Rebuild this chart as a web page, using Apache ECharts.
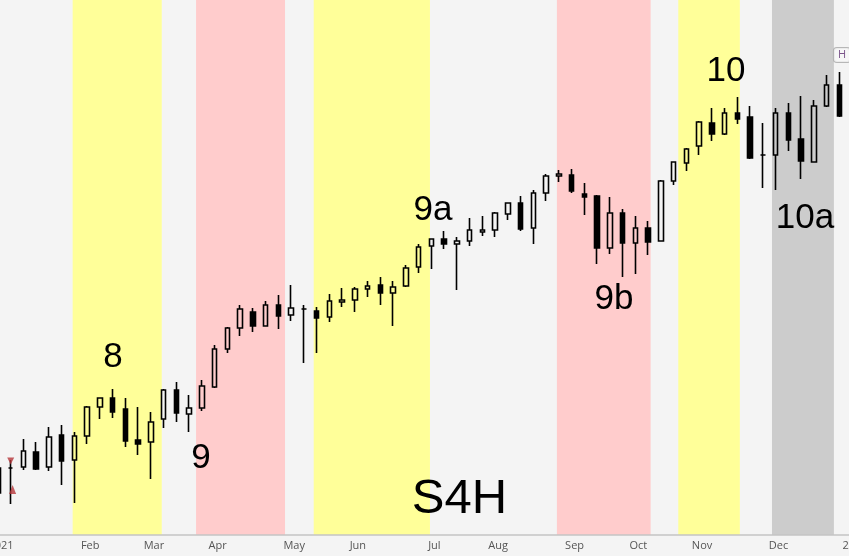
<!DOCTYPE html>
<html>
<head>
<meta charset="utf-8">
<script src="https://cdn.jsdelivr.net/npm/echarts@6/dist/echarts.min.js"></script>
<style>
html,body{margin:0;padding:0;background:#f4f4f4;}
#chart{width:849px;height:556px;}
</style>
</head>
<body>
<div id="chart"></div>
<script>
// ---- data (weekly candles, price units) ----
const opens = [24.2,26.7,26.8,28.3,26.8,30.0,27.5,29.9,32.8,33.7,
  32.6,29.5,29.3,31.6,34.5,32.1,32.7,34.8,38.6,40.7,
  42.3,40.9,43.0,42.0,42.6,42.4,41.8,43.3,43.5,44.6,
  45.0,44.2,44.9,46.8,48.9,49.6,49.1,49.4,50.3,50.5,
  52.1,53.2,50.7,54.2,55.9,56.0,54.1,53.9,48.7,52.2,
  49.2,50.7,49.4,55.4,57.2,58.9,61.2,60.1,62.2,61.8,
  58.0,58.0,62.2,59.6,57.3,62.9,65.0];
const closes = [26.7,26.7,28.4,26.6,29.8,27.4,29.9,32.8,33.7,32.3,
  29.4,29.1,31.3,34.5,32.2,32.7,34.9,38.6,40.7,42.6,
  40.9,43.0,41.9,42.7,42.6,41.7,43.4,43.5,44.6,44.9,
  44.2,44.8,46.7,48.8,49.6,49.1,49.4,50.5,50.5,52.2,
  53.2,50.6,54.2,55.9,56.1,54.4,53.8,48.7,52.2,49.2,
  50.7,49.3,55.4,57.3,58.6,61.3,60.1,62.2,61.6,57.7,
  58.0,62.2,59.5,57.4,62.9,65.0,61.9];
const lows = [24.2,23.1,26.5,26.5,26.4,25.0,23.2,29.1,31.6,31.7,
  28.8,28.0,25.6,30.7,31.3,30.3,32.4,34.7,38.2,39.9,
  40.3,40.9,40.6,41.4,37.2,38.2,41.3,42.8,42.3,43.8,
  43.0,40.9,44.8,46.2,46.6,48.6,44.5,48.9,49.9,49.8,
  51.5,50.4,49.1,53.4,55.3,54.2,52.0,47.1,48.1,45.8,
  46.1,48.0,49.4,55.0,56.4,58.0,59.4,60.0,61.1,57.6,
  54.7,54.5,58.4,55.6,57.3,62.8,61.8];
const highs = [26.7,27.5,29.6,29.3,30.8,31.0,30.3,32.9,33.7,34.6,
  33.7,32.8,32.3,34.6,35.3,34.0,35.5,39.0,40.8,43.0,
  42.7,43.4,44.0,45.0,43.0,42.8,44.1,44.7,44.8,45.4,
  45.8,45.4,47.0,49.1,49.6,50.4,49.8,51.7,51.9,52.3,
  53.2,53.9,54.5,56.1,56.5,56.6,55.2,54.0,53.8,52.6,
  51.9,51.4,55.5,57.3,58.7,61.4,62.7,62.7,63.8,62.9,
  61.2,62.7,63.2,63.9,63.5,66.0,66.3];

const weekCount = 68; // category slots (last one empty, holds the next-year label)
const weeks = Array.from({length: weekCount}, (_, i) => String(i));

// axis tick labels (week index -> text)
const tickIndex = [0,7,12,17,23,28,34,39,45,50,55,61,67];
const tickText  = ['2021','Feb','Mar','Apr','May','Jun','Jul','Aug','Sep','Oct','Nov','Dec','2022'];

// shaded periods, in (fractional) week index units
const bandStart = [5.86,15.54,24.77,43.85,53.37,60.72];
const bandEnd   = [12.85,22.52,33.89,51.2,58.2,65.58];
const bandKind  = ['yellow','pink','yellow','pink','yellow','gray'];

// wave annotations
const noteText = ['8','9','9a','9b','10','10a'];
const noteWeek = [9.03,15.93,34.13,48.33,57.11,63.31];
const notePrice = [37.8,27.7,52.5,43.6,66.4,51.7];

// signal markers at week 1
const sigWeek = [1.0,1.15];
const sigPrice = [27.4,24.55];

const priceMin = 20, priceMax = 73.5;

// ---- build ----
const candleData = opens.map((o, i) => [o, closes[i], lows[i], highs[i]]);
const bandColors = {yellow:'#ffff99', pink:'#ffcccc', gray:'#cccccc'};
const bandData = bandStart.map((s, i) => [s, bandEnd[i], bandKind[i]]);
const labelMap = {};
tickIndex.forEach((ix, k) => labelMap[ix] = tickText[k]);

const hidden = {color: 'rgba(0,0,0,0)'};
const bigText = {show: true, position: 'inside', formatter: '{b}', color: '#000', opacity: 1,
  textBorderWidth: 0, textShadowBlur: 0, fontFamily: 'Liberation Sans, Arial, sans-serif'};
const chart = echarts.init(document.getElementById('chart'), null, {renderer:'canvas'});
chart.setOption({
  backgroundColor: '#f4f4f4',
  animation: false,
  grid: {left: -8.42, right: -9.4, top: 0, bottom: 21, containLabel: false, outerBoundsMode: 'none'},
  xAxis: [{
    type: 'category', data: weeks, boundaryGap: true,
    axisLine: {show: true, lineStyle: {color: '#c4c4c4', width: 1.5}},
    axisTick: {show: false},
    splitLine: {show: false},
    axisLabel: {
      interval: (idx) => labelMap[idx] !== undefined,
      formatter: (v, idx) => labelMap[idx] || '',
      color: '#555', fontFamily: 'Open Sans', fontSize: 11, margin: 5,
      padding: [0,0,0,6], hideOverlap: false
    }
  }, {
    type: 'value', min: -0.5, max: weekCount - 0.5, show: false
  }],
  yAxis: [{type: 'value', min: priceMin, max: priceMax, show: false, splitLine: {show: false}}],
  series: [{
    type: 'custom', xAxisIndex: 1, yAxisIndex: 0, z: 0, silent: true,
    encode: {x: [0, 1]},
    data: bandData,
    renderItem: (params, api) => {
      const p1 = api.coord([api.value(0), priceMax]);
      const p2 = api.coord([api.value(1), priceMin]);
      return {type: 'rect', shape: {x: p1[0], y: p1[1], width: p2[0]-p1[0], height: p2[1]-p1[1]},
        style: {fill: bandColors[bandData[params.dataIndex][2]]}};
    }
  }, {
    type: 'candlestick', xAxisIndex: 0, yAxisIndex: 0, z: 3,
    data: candleData, barWidth: 5,
    itemStyle: {color: 'rgba(0,0,0,0)', color0: '#000', borderColor: '#000', borderColor0: '#000',
      borderColorDoji: '#000', borderWidth: 1.6}
  }, {
    type: 'scatter', xAxisIndex: 1, yAxisIndex: 0, z: 4,
    data: [[sigWeek[0], sigPrice[0]], [sigWeek[1], sigPrice[1]]],
    symbol: 'triangle',
    symbolSize: (v, p) => p.dataIndex === 0 ? [7,7] : [7,9],
    symbolRotate: (v, p) => p.dataIndex === 0 ? 180 : 0,
    itemStyle: {color: '#b5363a'}
  }, {
    type: 'scatter', xAxisIndex: 1, yAxisIndex: 0, z: 5,
    data: noteText.map((t, i) => ({name: t, value: [noteWeek[i], notePrice[i]]})),
    symbolSize: 1, itemStyle: hidden,
    label: Object.assign({}, bigText, {fontSize: 35})
  }, {
    type: 'scatter', xAxisIndex: 1, yAxisIndex: 0, z: 5,
    data: [{name: 'S4H', value: [36.2, 23.6]}],
    symbolSize: 1, itemStyle: hidden,
    label: Object.assign({}, bigText, {fontSize: 49})
  }, {
    type: 'scatter', xAxisIndex: 1, yAxisIndex: 0, z: 6,
    data: [{name: 'H', value: [66.21, 68.0]}],
    symbolSize: 1, itemStyle: hidden,
    label: {show: true, position: 'inside', formatter: '{b}', color: '#5b2c6f',
      fontFamily: 'Open Sans', fontSize: 11, backgroundColor: '#f7f7f7',
      borderColor: '#a8a8a8', borderWidth: 1, borderRadius: 3, padding: [2,4,1,4]}
  }]
});
</script>
</body>
</html>
